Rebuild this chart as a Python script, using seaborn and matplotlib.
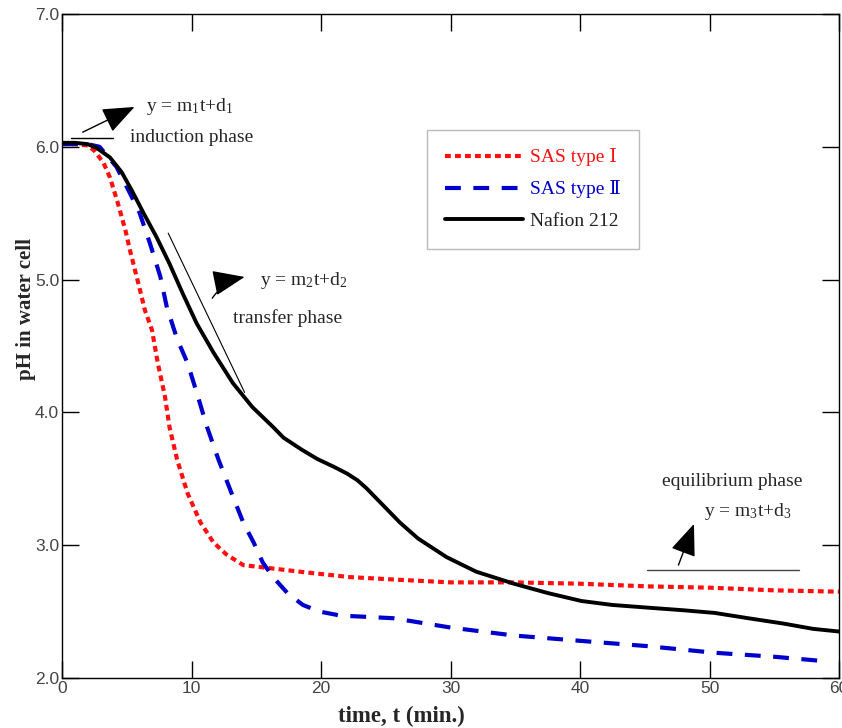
import matplotlib
matplotlib.use("Agg")
import matplotlib.pyplot as plt
import seaborn as sns
import pandas as pd

# ---- data ----
t_red = [0, 1, 2, 2.5, 3.2, 3.7, 4.3, 4.9, 5.25, 5.9, 6.4, 6.95, 7.4, 7.95, 8.3, 8.9, 9.7,
         10.7, 11.7, 12.7, 14, 15.8, 18.4, 22.2, 25.9, 30, 35, 40, 45.2, 50, 55, 60]
ph_red = [6.02, 6.02, 6.01, 5.97, 5.88, 5.77, 5.58, 5.37, 5.22, 4.97, 4.77, 4.62, 4.37, 4.12, 3.89,
          3.64, 3.39, 3.17, 3.02, 2.93, 2.85, 2.83, 2.80, 2.76, 2.74, 2.72, 2.72, 2.71, 2.69, 2.68,
          2.66, 2.65]

t_blue = [0, 1, 2, 2.9, 4.2, 5.25, 6, 6.8, 7.6, 8.1, 8.9, 9.7, 10.4, 11.2, 12.1, 13.1, 14, 14.8,
          15.5, 16.3, 17.4, 18.6, 19.9, 21.5, 23.6, 25.6, 30, 34.9, 40, 45.2, 50.4, 55, 58.5]
ph_blue = [6.02, 6.02, 6.02, 6.0, 5.85, 5.65, 5.5, 5.27, 5.02, 4.79, 4.55, 4.37, 4.15, 3.89, 3.64,
           3.39, 3.17, 3.02, 2.87, 2.76, 2.64, 2.55, 2.50, 2.47, 2.46, 2.45, 2.38, 2.32, 2.28, 2.24,
           2.19, 2.16, 2.13]

t_black = [0, 1, 2, 2.7, 3.7, 4.6, 5.4, 6.3, 7.3, 8.3, 9.3, 10.4, 11.7, 13.2, 14.7, 16.3, 17.1,
           18.5, 19.7, 21.0, 22.0, 22.8, 23.5, 24.3, 25.2, 26.1, 27.5, 29.7, 32, 34.9, 37.5, 40.1,
           42.5, 45.2, 48, 50.4, 53, 55.7, 58, 60]
ph_black = [6.03, 6.03, 6.02, 5.99, 5.92, 5.81, 5.67, 5.5, 5.32, 5.12, 4.90, 4.67, 4.45, 4.22,
            4.04, 3.89, 3.81, 3.72, 3.65, 3.59, 3.54, 3.49, 3.43, 3.35, 3.26, 3.17, 3.05, 2.91,
            2.80, 2.71, 2.64, 2.58, 2.55, 2.53, 2.51, 2.49, 2.45, 2.41, 2.37, 2.35]

labels = ["SAS type Ⅰ", "SAS type Ⅱ", "Nafion 212"]
x_ticks = [0, 10, 20, 30, 40, 50, 60]
y_ticks = [2.0, 3.0, 4.0, 5.0, 6.0, 7.0]

sns.set_theme(style="white")
serif = ["Liberation Serif", "DejaVu Serif", "Noto Sans CJK SC"]
plt.rcParams["font.family"] = serif
plt.rcParams["mathtext.fontset"] = "custom"
plt.rcParams["mathtext.rm"] = "Liberation Serif"
plt.rcParams["mathtext.it"] = "Liberation Serif"
plt.rcParams["mathtext.default"] = "rm"

fig = plt.figure(figsize=(8.42, 7.28), dpi=100)
ax = fig.add_axes([62 / 842, 1 - 678 / 728, 777 / 842, 664 / 728])

df_red = pd.DataFrame({"t": t_red, "pH": ph_red})
df_blue = pd.DataFrame({"t": t_blue, "pH": ph_blue})
df_black = pd.DataFrame({"t": t_black, "pH": ph_black})

sns.lineplot(data=df_red, x="t", y="pH", ax=ax, color="#ff1010", lw=3.0,
             label=labels[0], estimator=None, sort=False)
ax.lines[-1].set_dashes([1.4, 1.0])
sns.lineplot(data=df_blue, x="t", y="pH", ax=ax, color="#0000cc", lw=3.0,
             label=labels[1], estimator=None, sort=False)
ax.lines[-1].set_dashes([3.8, 3.0])
sns.lineplot(data=df_black, x="t", y="pH", ax=ax, color="black", lw=2.8,
             label=labels[2], estimator=None, sort=False)

ax.set_xlim(0, 60)
ax.set_ylim(2.0, 7.0)
ax.set_xticks(x_ticks)
ax.set_xticklabels([str(v) for v in x_ticks])
ax.set_yticks(y_ticks)
ax.set_yticklabels([f"{v:.1f}" for v in y_ticks])

for s in ax.spines.values():
    s.set_visible(True)
    s.set_color("black")
    s.set_linewidth(1.0)
ax.tick_params(axis="both", direction="in", length=12, width=1, color="black",
               top=True, right=True, bottom=True, left=True,
               labelsize=12.5, labelcolor="#444444", pad=2)
for lab in ax.get_xticklabels() + ax.get_yticklabels():
    lab.set_family(["Liberation Sans", "DejaVu Sans"])

ax.set_xlabel("time, t (min.)", fontsize=16.5, fontweight="bold")
ax.xaxis.set_label_coords((401 - 62) / 777, (678 - 716) / 664)
ax.xaxis.label.set_va("center")
ax.set_ylabel("pH in water cell", fontsize=15, fontweight="bold")
ax.yaxis.set_label_coords((26 - 62) / 777, (678 - 309) / 664)
ax.yaxis.label.set_va("center")

# legend
leg = ax.legend(loc="upper left", bbox_to_anchor=((427 - 62) / 777, (678 - 130) / 664),
                fontsize=14, handlelength=4.0, handletextpad=0.35, labelspacing=0.72,
                borderpad=0.95, frameon=True, fancybox=False, borderaxespad=0)
leg.get_frame().set_edgecolor("#aaaaaa")
leg.get_frame().set_linewidth(1.0)
for txt, col in zip(leg.get_texts(), ["#ff1010", "#0000cc", "#222222"]):
    txt.set_color(col)

tfs = 14
arrow_kw = dict(arrowstyle="-|>,head_length=1.0,head_width=0.4", color="black",
                lw=1.0, mutation_scale=20, shrinkA=0, shrinkB=0)

# induction phase
ax.plot([0.7, 3.9], [6.07, 6.07], color="black", lw=1.0)
ax.annotate("", xy=(5.6, 6.30), xytext=(1.6, 6.11), arrowprops=arrow_kw)
ax.text(6.5, 6.30, "y = m$_{1}$t+d$_{1}$", fontsize=tfs, va="center", ha="left")
ax.text(5.25, 6.07, "induction phase", fontsize=tfs, va="center", ha="left")

# transfer phase
ax.plot([8.2, 14.1], [5.35, 4.15], color="black", lw=0.8)
ax.annotate("", xy=(14.1, 5.02), xytext=(11.6, 4.86),
            arrowprops=dict(arrow_kw, connectionstyle="arc3,rad=-0.2"))
ax.text(15.3, 4.99, "y = m$_{2}$t+d$_{2}$", fontsize=tfs, va="center", ha="left")
ax.text(13.2, 4.71, "transfer phase", fontsize=tfs, va="center", ha="left")

# equilibrium phase
ax.plot([45.2, 56.9], [2.81, 2.81], color="#444444", lw=1.0)
ax.annotate("", xy=(48.8, 3.16), xytext=(47.6, 2.85), arrowprops=arrow_kw)
ax.text(46.3, 3.48, "equilibrium phase", fontsize=tfs, va="center", ha="left")
ax.text(49.6, 3.25, "y = m$_{3}$t+d$_{3}$", fontsize=tfs, va="center", ha="left")

fig.savefig("out.png", dpi=100)
